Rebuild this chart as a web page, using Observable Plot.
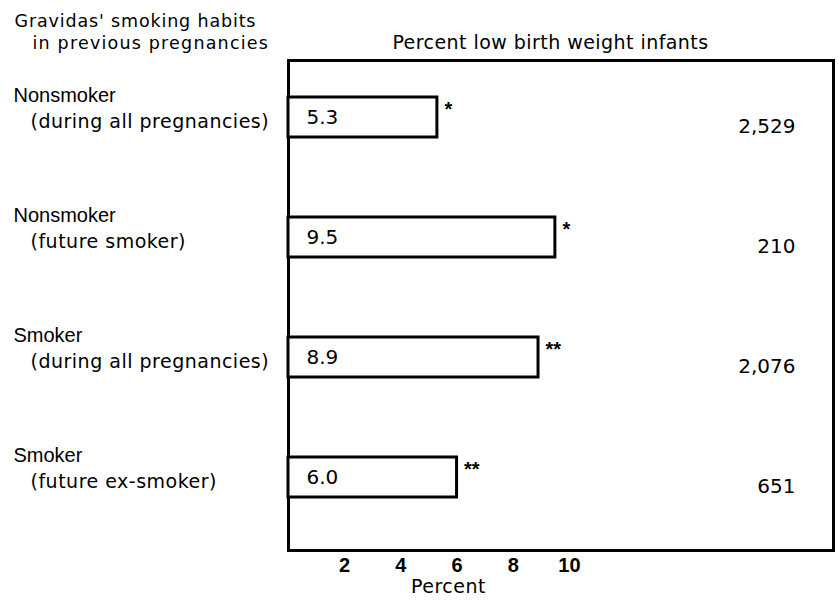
<!DOCTYPE html>
<html><head><meta charset="utf-8">
<script src="https://cdn.jsdelivr.net/npm/d3@7"></script>
<script src="https://cdn.jsdelivr.net/npm/@observablehq/plot@0.6"></script>
<style>body{margin:0;background:#fff} svg{display:block}</style>
</head><body><div id="chart"></div>
<script>
// Data
const groupLine1 = ["Nonsmoker", "Nonsmoker", "Smoker", "Smoker"];
const groupLine2 = ["(during all pregnancies)", "(future smoker)", "(during all pregnancies)", "(future ex-smoker)"];
const percentLow = [5.3, 9.5, 8.9, 6.0];
const infantCounts = ["2,529", "210", "2,076", "651"];
const significance = ["*", "*", "**", "**"];
const xTicks = [2, 4, 6, 8, 10];
const headerLeft1 = "Gravidas' smoking habits";
const headerLeft2 = "in previous pregnancies";
const title = "Percent low birth weight infants";
const xLabel = "Percent";

const data = groupLine1.map((g, i) => ({
  key: g + " " + groupLine2[i],
  line1: g,
  line2: groupLine2[i],
  value: percentLow[i],
  label: percentLow[i].toFixed(1),
  count: infantCounts[i],
  sig: significance[i]
}));
const keys = data.map(d => d.key);

const FL = 288; // frame left
const wide = {fontFamily: "'DejaVu Sans', sans-serif", fontSize: 19};
const header = {fontFamily: "'DejaVu Sans', sans-serif", fontSize: 17.5};
const narrow = {fontFamily: "'Liberation Sans', Arial, sans-serif", fontSize: 20};
const chart = Plot.plot({
  width: 838, height: 607,
  marginLeft: FL, marginRight: 5, marginTop: 60, marginBottom: 57,
  style: {fontFamily: "'DejaVu Sans', sans-serif", fontSize: "18px", color: "#000", background: "#fff"},
  x: {domain: [0, 19.4]},
  y: {domain: keys, range: [57, 537], padding: 0},
  marks: [
    Plot.frame({stroke: "#000", strokeWidth: 3}),
    Plot.barX(data, {x: "value", y: "key", fill: "white", stroke: "#000", strokeWidth: 3, insetTop: 40, insetBottom: 40}),
    Plot.axisX({ticks: xTicks, tickSize: 0, tickPadding: 7, fontSize: 20, fontFamily: "'Liberation Sans', Arial, sans-serif", fontWeight: "bold", label: null}),
    Plot.axisY({ticks: [], label: null}),
    // value inside bars
    Plot.text(data, {x: 0, y: "key", text: "label", textAnchor: "start", dx: 18, fontSize: 20, fontFamily: "'DejaVu Sans', sans-serif"}),
    // significance markers
    Plot.text(data, {x: "value", y: "key", text: "sig", textAnchor: "start", dx: 7, dy: -8, fontSize: 20, fontWeight: "bold", fontFamily: "'Liberation Sans', Arial, sans-serif"}),
    // counts
    Plot.text(data, {y: "key", text: "count", frameAnchor: "right", textAnchor: "end", dx: -38, dy: 9, fontSize: 20, fontFamily: "'DejaVu Sans', sans-serif"}),
    // group labels
    Plot.text(data, {y: "key", text: "line1", frameAnchor: "left", textAnchor: "start", dx: 13 - FL, dy: -22, ...narrow}),
    Plot.text(data, {y: "key", text: "line2", frameAnchor: "left", textAnchor: "start", dx: 30 - FL, dy: 4, ...wide}),
    // headers
    Plot.text([headerLeft1], {text: d => d, frameAnchor: "top-left", textAnchor: "start", dx: 14 - FL, dy: -46, ...header}),
    Plot.text([headerLeft2], {text: d => d, frameAnchor: "top-left", textAnchor: "start", dx: 32 - FL, dy: -24, ...header}),
    Plot.text([title], {text: d => d, frameAnchor: "top-left", textAnchor: "middle", dx: 550 - FL, dy: -25, ...wide}),
    Plot.text([xLabel], {text: d => d, frameAnchor: "bottom-left", textAnchor: "middle", dx: 448 - FL, dy: 42, ...wide})
  ]
});
// widen the spacing of the wide, letter-spaced typeface of the original
const spacing = new Map([
  [headerLeft1, "0.85px"], [headerLeft2, "1.2px"], [title, "0.45px"], [xLabel, "0.5px"],
  ...groupLine2.map(t => [t, "0.5px"])
]);
chart.querySelectorAll("text").forEach(el => {
  const ls = spacing.get(el.textContent);
  if (ls) el.setAttribute("letter-spacing", ls);
});
document.getElementById("chart").append(chart);
</script>
</body></html>
